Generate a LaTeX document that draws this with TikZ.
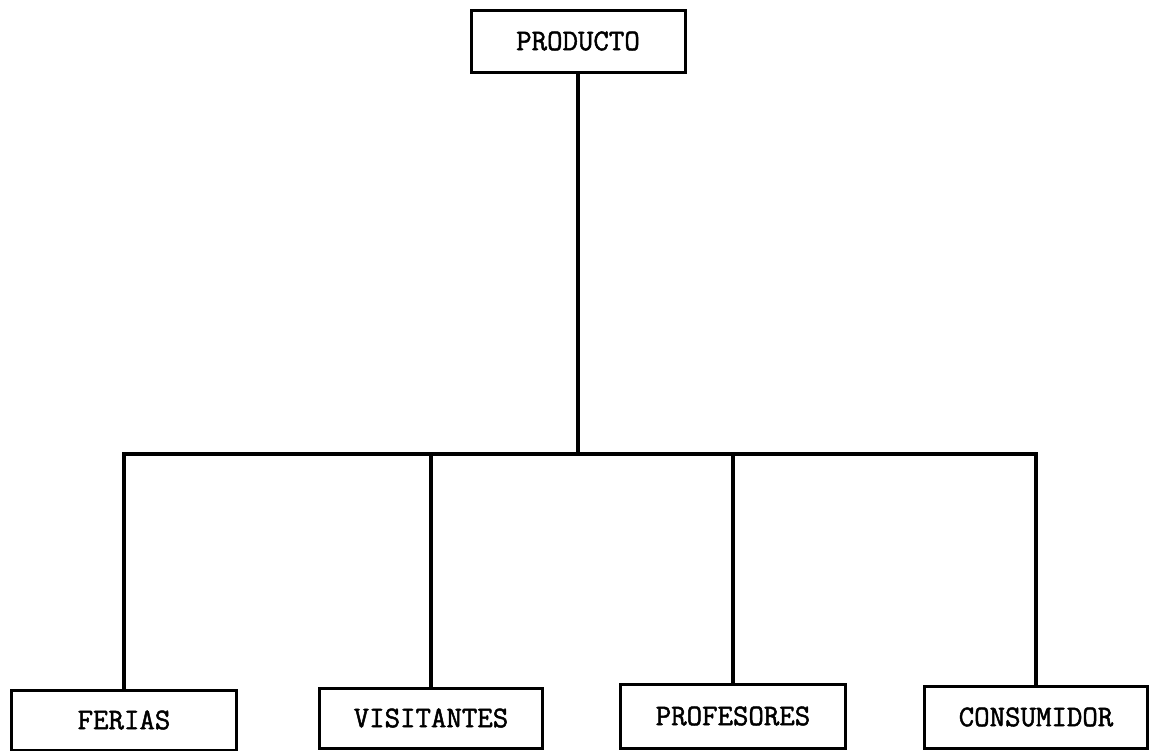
\documentclass[tikz,border=0pt]{standalone}
\usepackage{fontspec}
\newfontfamily\typfont[FakeBold=1.6]{Latin Modern Mono}
\begin{document}
\begin{tikzpicture}[x=1pt,y=-1pt,
  box/.style={draw,line width=3pt,minimum width=#1,inner sep=0pt,font=\typfont\fontsize{30}{32}\selectfont},
  box/.default=222pt,
  link/.style={line width=3.4pt}]
\useasboundingbox (0,0) rectangle (1153,750);
\node[box=214pt,minimum height=62pt] (prod) at (578,41) {PRODUCTO};
\node[box=225pt,minimum height=60pt] (fer) at (124,720) {FERIAS};
\node[box=223pt,minimum height=60pt] (vis) at (431,718) {VISITANTES};
\node[box=225pt,minimum height=64pt] (pro) at (733,716) {PROFESORES};
\node[box=223pt,minimum height=62pt] (con) at (1036,717) {CONSUMIDOR};
\coordinate (j) at (578,454);
\draw[link] (prod.south) -- (j);
\draw[link] (j) -| (fer.north);
\draw[link] (j) -| (vis.north);
\draw[link] (j) -| (pro.north);
\draw[link] (j) -| (con.north);
\end{tikzpicture}
\end{document}
